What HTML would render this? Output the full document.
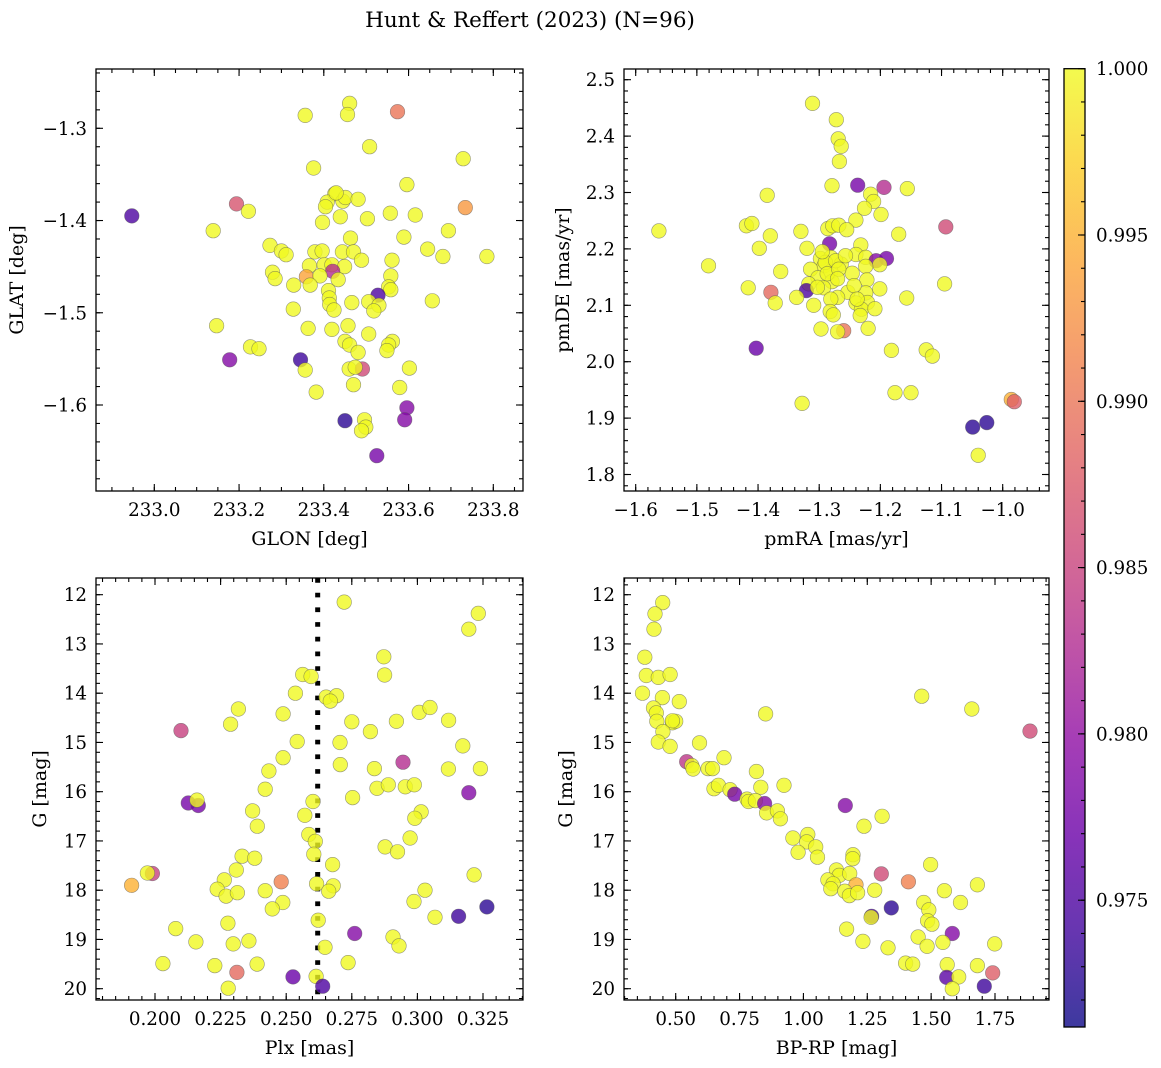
<!DOCTYPE html>
<html><head><meta charset="utf-8">
<style>
html,body{margin:0;padding:0;background:#fff;}
svg{display:block;}
text{font-family:"DejaVu Serif","Liberation Serif",serif;fill:#000;}
</style></head>
<body>
<svg id="fig" width="1161" height="1068" viewBox="0 0 1161 1068" xmlns="http://www.w3.org/2000/svg">
<rect width="1161" height="1068" fill="#fff"/>
<text x="530" y="27" font-size="21.5" text-anchor="middle">Hunt &amp; Reffert (2023) (N=96)</text>
</svg>
<script>
// ---- Panel 1: GLON / GLAT ----
const p1Glon=[232.947,233.194,233.222,233.139,233.356,233.461,233.456,233.574,233.508,233.729,233.376,233.596,233.734,233.426,233.408,233.404,233.445,233.451,233.481,233.439,233.397,233.503,233.557,233.616,233.694,233.589,233.463,233.645,233.681,233.785,233.273,233.300,233.311,233.379,233.396,233.444,233.470,233.489,233.561,233.366,233.401,233.419,233.449,233.421,233.359,233.391,233.434,233.279,233.285,233.329,233.368,233.558,233.553,233.558,233.528,233.411,233.413,233.414,233.424,233.466,233.506,233.530,233.518,233.656,233.328,233.147,233.363,233.419,233.457,233.506,233.450,233.461,233.481,233.562,233.553,233.549,233.227,233.247,233.178,233.345,233.356,233.460,233.491,233.474,233.602,233.470,233.382,233.579,233.596,233.591,233.450,233.496,233.499,233.489,233.525,233.429];
const p1Glat=[-1.395,-1.382,-1.390,-1.411,-1.286,-1.273,-1.285,-1.282,-1.320,-1.333,-1.343,-1.361,-1.386,-1.371,-1.380,-1.385,-1.379,-1.375,-1.377,-1.396,-1.402,-1.398,-1.392,-1.394,-1.411,-1.418,-1.419,-1.431,-1.439,-1.439,-1.427,-1.433,-1.437,-1.434,-1.433,-1.434,-1.434,-1.443,-1.443,-1.449,-1.448,-1.448,-1.450,-1.455,-1.461,-1.460,-1.464,-1.456,-1.463,-1.470,-1.470,-1.460,-1.472,-1.475,-1.481,-1.476,-1.484,-1.491,-1.497,-1.489,-1.488,-1.492,-1.498,-1.487,-1.496,-1.514,-1.517,-1.518,-1.514,-1.523,-1.531,-1.535,-1.543,-1.531,-1.535,-1.541,-1.537,-1.539,-1.551,-1.551,-1.562,-1.561,-1.561,-1.559,-1.560,-1.578,-1.586,-1.581,-1.603,-1.616,-1.617,-1.616,-1.624,-1.628,-1.655,-1.370];
const p1Prob=[0.975,0.987,1,1,1,1,1,0.990,1,1,1,1,0.993,1,1,1,1,1,1,1,1,1,1,1,1,1,1,1,1,1,1,1,1,1,1,1,1,1,1,1,1,1,1,0.983,0.994,1,1,1,1,1,1,1,1,1,0.975,1,1,1,1,1,1,1,1,1,1,1,1,1,1,1,1,1,1,1,1,1,1,1,0.979,0.974,1,1,0.986,1,1,1,1,1,0.979,0.979,0.973,1,1,1,0.978,1];
const p1XTicks=[233.0,233.2,233.4,233.6,233.8];
const p1YTicks=[-1.3,-1.4,-1.5,-1.6];

// ---- Panel 2: pmRA / pmDE ----
const p2PmRA=[-1.562,-1.481,-1.311,-1.272,-1.269,-1.264,-1.267,-1.279,-1.237,-1.194,-1.156,-1.385,-1.216,-1.211,-1.226,-1.199,-1.240,-1.419,-1.410,-1.380,-1.330,-1.286,-1.278,-1.268,-1.255,-1.170,-1.093,-1.398,-1.320,-1.283,-1.232,-1.240,-1.224,-1.207,-1.190,-1.201,-1.224,-1.298,-1.281,-1.264,-1.292,-1.314,-1.281,-1.246,-1.363,-1.302,-1.279,-1.317,-1.222,-1.095,-1.416,-1.321,-1.293,-1.253,-1.224,-1.201,-1.379,-1.337,-1.270,-1.281,-1.157,-1.372,-1.309,-1.240,-1.221,-1.231,-1.209,-1.282,-1.277,-1.233,-1.297,-1.260,-1.270,-1.220,-1.403,-1.182,-1.125,-1.115,-1.176,-1.150,-1.328,-0.986,-0.981,-1.049,-1.026,-1.040,-1.290,-1.273,-1.287,-1.268,-1.303,-1.243,-1.238,-1.270,-1.257,-1.295];
const p2PmDE=[2.232,2.170,2.458,2.429,2.395,2.382,2.355,2.312,2.313,2.309,2.307,2.295,2.297,2.284,2.272,2.261,2.251,2.241,2.245,2.223,2.231,2.236,2.241,2.242,2.234,2.226,2.239,2.201,2.201,2.209,2.207,2.190,2.185,2.179,2.183,2.172,2.169,2.183,2.185,2.173,2.170,2.164,2.160,2.157,2.160,2.149,2.142,2.138,2.145,2.138,2.131,2.126,2.131,2.123,2.122,2.129,2.123,2.114,2.114,2.111,2.113,2.104,2.100,2.104,2.105,2.093,2.094,2.089,2.083,2.082,2.058,2.055,2.053,2.059,2.024,2.020,2.021,2.010,1.945,1.945,1.926,1.933,1.929,1.884,1.892,1.834,2.176,2.179,2.156,2.164,2.132,2.135,2.111,2.147,2.188,2.195];
const p2Prob=[1,1,1,1,1,1,1,1,0.978,0.983,1,1,1,1,1,1,1,1,1,1,1,1,1,1,1,1,0.986,1,1,0.978,1,1,1,0.979,0.978,1,1,1,1,1,1,1,1,1,1,1,1,1,1,1,1,0.975,1,1,1,1,0.989,1,1,1,1,1,1,1,1,1,1,1,1,1,1,0.990,1,1,0.977,1,1,1,1,1,1,0.995,0.988,0.973,0.973,1,1,1,1,1,1,1,1,1,1,1];
const p2XTicks=[-1.6,-1.5,-1.4,-1.3,-1.2,-1.1,-1.0];
const p2YTicks=[2.5,2.4,2.3,2.2,2.1,2.0,1.9,1.8];

// ---- Panel 3: Plx / G ----
const p3Plx=[0.2721,0.3232,0.3196,0.2872,0.2875,0.2563,0.2595,0.2535,0.2652,0.2692,0.2668,0.2318,0.2288,0.2099,0.2488,0.2750,0.2821,0.2920,0.3007,0.3048,0.3119,0.2542,0.2705,0.3173,0.2488,0.2706,0.2836,0.2945,0.3118,0.3240,0.2434,0.2420,0.2846,0.2889,0.2954,0.2988,0.2753,0.3196,0.2127,0.2165,0.2160,0.2602,0.2372,0.2571,0.2390,0.3014,0.2990,0.2586,0.2611,0.2605,0.2972,0.2877,0.2924,0.2332,0.2380,0.2677,0.2310,0.3216,0.1990,0.1971,0.1911,0.2264,0.2481,0.2237,0.2271,0.2314,0.2420,0.2616,0.2679,0.2662,0.3029,0.2987,0.2487,0.2447,0.3067,0.3157,0.3265,0.2278,0.2622,0.2761,0.2079,0.2156,0.2298,0.2358,0.2648,0.2907,0.2930,0.2030,0.2228,0.2389,0.2736,0.2312,0.2526,0.2614,0.2639,0.2279];
const p3G=[12.15,12.38,12.70,13.26,13.63,13.62,13.66,14.00,14.08,14.05,14.16,14.32,14.63,14.76,14.42,14.58,14.78,14.57,14.39,14.29,14.55,14.98,15.00,15.07,15.31,15.45,15.53,15.40,15.54,15.53,15.58,15.95,15.93,15.86,15.90,15.86,16.12,16.02,16.23,16.28,16.17,16.20,16.39,16.48,16.70,16.41,16.54,16.87,17.01,17.27,16.94,17.12,17.22,17.31,17.35,17.48,17.59,17.69,17.66,17.65,17.90,17.79,17.83,17.98,18.12,18.05,18.01,17.87,17.91,18.02,18.00,18.23,18.25,18.38,18.55,18.53,18.34,18.67,18.61,18.88,18.78,19.05,19.09,19.03,19.16,18.95,19.13,19.49,19.53,19.50,19.47,19.67,19.76,19.75,19.95,19.99];
const p3Prob=[1,1,1,1,1,1,1,1,1,1,1,1,1,0.985,1,1,1,1,1,1,1,1,1,1,1,1,1,0.983,1,1,1,1,1,1,1,1,1,0.979,0.978,0.978,1,1,1,1,1,1,1,1,1,1,1,1,1,1,1,1,1,1,0.985,1,0.995,1,0.991,1,1,1,1,1,1,1,1,1,1,1,1,0.974,0.973,1,1,0.979,1,1,1,1,1,1,1,1,1,1,1,0.989,0.977,1,0.975,1];
const p3XTicks=[0.200,0.225,0.250,0.275,0.300,0.325];
const p3YTicks=[12,13,14,15,16,17,18,19,20];
const p3VLine=[0.262];

// ---- Panel 4: BP-RP / G ----
const p4BpRp=[0.449,0.419,0.415,0.379,0.385,0.432,0.478,0.370,0.448,0.514,0.413,0.424,0.852,1.463,1.659,1.887,0.426,0.487,0.500,0.450,0.432,0.478,0.593,0.543,0.563,0.568,0.627,0.644,0.689,0.816,0.650,0.667,0.713,0.731,0.833,0.924,0.779,0.785,0.812,0.848,0.856,0.898,0.910,1.164,1.308,1.237,0.959,1.017,1.013,1.048,0.979,1.055,1.194,1.193,1.498,1.129,1.140,1.181,1.305,1.411,1.096,1.116,1.107,1.206,1.162,1.180,1.212,1.279,1.681,1.552,1.471,1.491,1.615,1.344,1.267,1.265,1.486,1.503,1.583,1.169,1.233,1.331,1.449,1.484,1.546,1.749,1.400,1.428,1.563,1.681,1.741,1.561,1.608,1.583,1.708,0.487];
const p4G=[12.16,12.39,12.70,13.27,13.64,13.68,13.62,14.00,14.09,14.17,14.30,14.40,14.42,14.06,14.32,14.77,14.57,14.60,14.57,14.78,14.99,15.08,15.01,15.39,15.47,15.54,15.53,15.53,15.31,15.59,15.94,15.87,15.96,16.05,15.91,15.87,16.15,16.20,16.18,16.24,16.43,16.39,16.55,16.28,16.50,16.70,16.94,16.87,17.02,17.12,17.23,17.33,17.28,17.36,17.48,17.59,17.70,17.66,17.67,17.83,17.79,17.87,17.97,17.89,18.02,18.11,18.05,18.00,17.89,18.01,18.25,18.40,18.25,18.36,18.53,18.55,18.62,18.69,18.88,18.79,19.04,19.17,18.95,19.14,19.06,19.09,19.48,19.50,19.51,19.53,19.68,19.77,19.76,20.00,19.95,14.56];
const p4Prob=[1,1,1,1,1,1,1,1,1,1,1,1,1,1,1,0.986,1,1,1,1,1,1,1,0.984,1,1,1,1,1,1,1,1,1,0.978,1,1,1,1,1,0.979,1,1,1,0.979,1,1,1,1,1,1,1,1,1,1,1,1,1,1,0.986,0.991,1,1,1,0.995,1,1,1,1,1,1,1,1,1,0.973,0.975,1,1,1,0.979,1,1,1,1,1,1,1,1,1,1,1,0.988,0.976,1,1,0.974,1];
const p4XTicks=[0.50,0.75,1.00,1.25,1.50,1.75];
const p4YTicks=[12,13,14,15,16,17,18,19,20];

// ---- Colorbar ----
const cbTicks=[1.000,0.995,0.990,0.985,0.980,0.975];
const cbMin=0.97136, cbMax=1.0;

const NS="http://www.w3.org/2000/svg";
const svg=document.getElementById('fig');
function mk(tag,attrs,parent){const e=document.createElementNS(NS,tag);for(const k in attrs)e.setAttribute(k,attrs[k]);(parent||svg).appendChild(e);return e;}

const plasma=[[13,8,135],[65,4,157],[106,0,168],[143,13,164],[177,42,144],[204,71,120],[225,100,98],[242,132,75],[252,166,54],[252,206,37],[240,249,33]];
function cmap(v){let t=(v-cbMin)/(cbMax-cbMin);t=Math.max(0,Math.min(1,t));const s=t*10,i=Math.min(9,Math.floor(s)),f=s-i;const a=plasma[i],b=plasma[i+1];return 'rgb('+[0,1,2].map(k=>Math.round(a[k]+(b[k]-a[k])*f)).join(',')+')';}

function lin(d0,d1,p0,p1){return v=>p0+(v-d0)*(p1-p0)/(d1-d0);}

const TICKFS=18.3, LABFS=19;
function panel(o){
  const g=mk('g',{});
  
  
  const X=o.sx,Y=o.sy;
  const {L,R,T,B}=o.box;
  const cid='clip-'+o.name;
  const cp=mk('clipPath',{id:cid},g);mk('rect',{x:L,y:T,width:R-L,height:B-T},cp);
  const pg=mk('g',{'clip-path':'url(#'+cid+')'},g);
  
  
  if(o.vline){o.vline.forEach(v=>{const ln=mk('line',{x1:X(v),x2:X(v),y1:T,y2:B,stroke:'#000','stroke-width':5,'stroke-dasharray':'4.7,10'},pg);
    
    });}
  for(let i=0;i<o.xs.length;i++){
    const c=mk('circle',{cx:X(o.xs[i]).toFixed(1),cy:Y(o.ys[i]).toFixed(1),r:7.3,fill:cmap(o.cs[i]),'fill-opacity':0.8,stroke:'#555','stroke-opacity':0.6,'stroke-width':0.6},pg);
    
    
  }
  const tg=mk('g',{stroke:'#000','stroke-width':1.1},g);
  function xt(v,len){const x=X(v);if(x<L-0.5||x>R+0.5)return;mk('line',{x1:x,x2:x,y1:B,y2:B-len},tg);mk('line',{x1:x,x2:x,y1:T,y2:T+len},tg);}
  function yt(v,len){const y=Y(v);if(y<T-0.5||y>B+0.5)return;mk('line',{x1:L,x2:L+len,y1:y,y2:y},tg);mk('line',{x1:R,x2:R-len,y1:y,y2:y},tg);}
  for(let v=o.xMin[0];v<=o.xMin[1]+1e-9;v+=o.xMin[2])xt(v,4);
  for(let v=o.yMin[0];v<=o.yMin[1]+1e-9;v+=o.yMin[2])yt(v,4);
  o.xt.forEach(v=>xt(v,7));o.yt.forEach(v=>yt(v,7));
  mk('rect',{x:L,y:T,width:R-L,height:B-T,fill:'none',stroke:'#000','stroke-width':1.3},g);
  o.xt.forEach(v=>{const t=mk('text',{x:X(v),y:B+25,'font-size':TICKFS,'text-anchor':'middle'},g);t.textContent=o.xf(v).replace('-','\u2212');
    
    });
  o.yt.forEach(v=>{const t=mk('text',{x:L-9,y:Y(v)+6.5,'font-size':TICKFS,'text-anchor':'end'},g);t.textContent=o.yf(v).replace('-','\u2212');
    
    });
  const xl=mk('text',{x:(L+R)/2,y:B+54,'font-size':LABFS,'text-anchor':'middle'},g);xl.textContent=o.xlabel;
  
  
  const yl=mk('text',{x:0,y:0,'font-size':LABFS,'text-anchor':'middle',transform:'translate('+o.ylx+','+(T+B)/2+') rotate(-90)'},g);yl.textContent=o.ylabel;
  
  
}

const gY=lin(12,20,594.7,988.7);
panel({name:'glon-glat-panel',box:{L:96,R:523,T:69,B:491},sx:lin(233.0,233.8,154.3,493.3),sy:lin(-1.3,-1.6,128.3,405),
  xs:p1Glon,ys:p1Glat,cs:p1Prob,xt:p1XTicks,yt:p1YTicks,xMin:[232.85,233.9,0.05],yMin:[-1.70,-1.22,0.02],
  xf:v=>v.toFixed(1),yf:v=>v.toFixed(1),xlabel:'GLON [deg]',ylabel:'GLAT [deg]',ylx:23});
panel({name:'pmra-pmde-panel',box:{L:624,R:1049,T:69,B:491},sx:lin(-1.6,-1.0,635.7,1002.7),sy:lin(2.5,1.8,79.7,474.5),
  xs:p2PmRA,ys:p2PmDE,cs:p2Prob,xt:p2XTicks,yt:p2YTicks,xMin:[-1.64,-0.92,0.02],yMin:[1.76,2.54,0.02],
  xf:v=>v.toFixed(1),yf:v=>v.toFixed(1),xlabel:'pmRA [mas/yr]',ylabel:'pmDE [mas/yr]',ylx:569});
panel({name:'plx-g-panel',box:{L:96,R:523,T:578,B:1000},sx:lin(0.2,0.325,155,483),sy:gY,
  xs:p3Plx,ys:p3G,cs:p3Prob,xt:p3XTicks,yt:p3YTicks,xMin:[0.175,0.345,0.005],yMin:[11.6,20.4,0.2],
  xf:v=>v.toFixed(3),yf:v=>String(v),xlabel:'Plx [mas]',ylabel:'G [mag]',ylx:46,vline:p3VLine});
panel({name:'bprp-g-panel',box:{L:624,R:1049,T:578,B:1000},sx:lin(0.5,1.75,675.7,995),sy:gY,
  xs:p4BpRp,ys:p4G,cs:p4Prob,xt:p4XTicks,yt:p4YTicks,xMin:[0.3,2.0,0.05],yMin:[11.6,20.4,0.2],
  xf:v=>v.toFixed(2),yf:v=>String(v),xlabel:'BP-RP [mag]',ylabel:'G [mag]',ylx:572});

// colorbar
const cb=mk('g',{});


const CT=68.7,CB=1027,CL=1064,CR=1085;
const cy=lin(1.0,0.975,CT,CT+(235-68.7)*5);
const defs=mk('defs',{},cb);
const gr=mk('linearGradient',{id:'cbgrad',x1:0,y1:1,x2:0,y2:0},defs);
for(let k=0;k<=20;k++){const v=cbMin+(cbMax-cbMin)*k/20;mk('stop',{offset:k/20,'stop-color':cmap(v),'stop-opacity':0.8},gr);}
mk('rect',{x:CL,y:CT,width:CR-CL,height:CB-CT,fill:'url(#cbgrad)'},cb);
const ctg=mk('g',{stroke:'#000','stroke-width':1.1},cb);
for(let v=0.972;v<=1.0001;v+=0.001){const y=cy(v);if(y>=CT&&y<=CB)mk('line',{x1:CR,x2:CR-4,y1:y,y2:y},ctg);}
cbTicks.forEach(v=>{const y=cy(v);mk('line',{x1:CR,x2:CR-7,y1:y,y2:y},ctg);
  const t=mk('text',{x:CR+11,y:y+6.5,'font-size':TICKFS},cb);t.textContent=v.toFixed(3);
  
  });
mk('rect',{x:CL,y:CT,width:CR-CL,height:CB-CT,fill:'none',stroke:'#000','stroke-width':1.3},cb);
</script>
</body></html>
